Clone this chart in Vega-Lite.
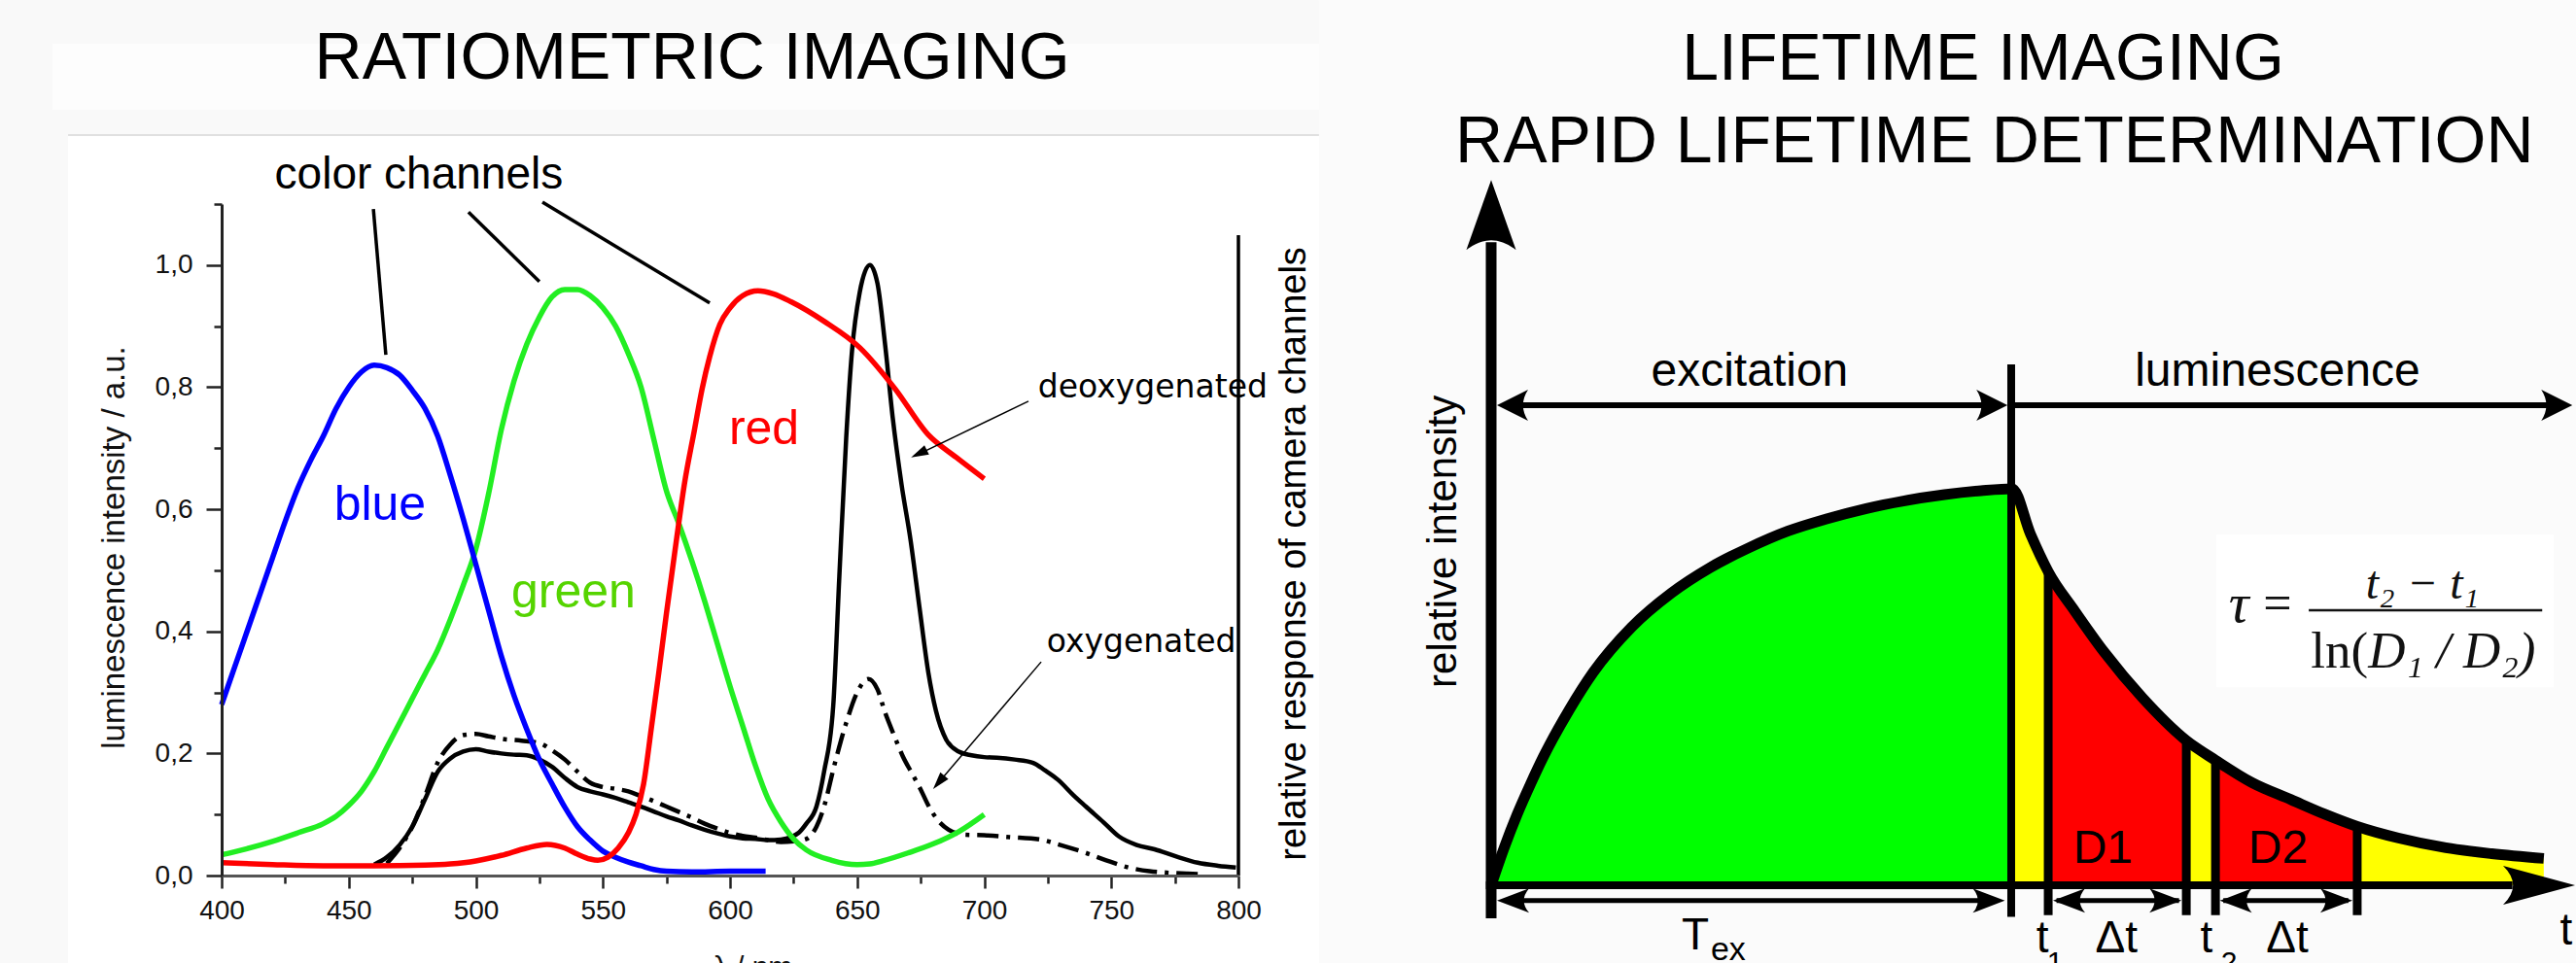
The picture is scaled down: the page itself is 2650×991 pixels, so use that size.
{
"$schema":"https://vega.github.io/schema/vega-lite/v6.json",
"background":"#fbfbfb",
"padding":0,
"autosize":{"type":"pad"},
"bounds":"flush",
"spacing":260,
"config":{"view":{"stroke":null},"font":"Liberation Sans"},
"datasets":{
"spectra":[
{"series":"blue","nm":400,"v":0.28},{"series":"blue","nm":405,"v":0.34},{"series":"blue","nm":410,"v":0.4},{"series":"blue","nm":415,"v":0.46},{"series":"blue","nm":420,"v":0.52},{"series":"blue","nm":425,"v":0.58},{"series":"blue","nm":430,"v":0.635},{"series":"blue","nm":435,"v":0.68},{"series":"blue","nm":440,"v":0.72},{"series":"blue","nm":445,"v":0.765},{"series":"blue","nm":450,"v":0.8},{"series":"blue","nm":455,"v":0.825},{"series":"blue","nm":460,"v":0.836},{"series":"blue","nm":465,"v":0.832},{"series":"blue","nm":470,"v":0.82},{"series":"blue","nm":475,"v":0.795},{"series":"blue","nm":480,"v":0.765},{"series":"blue","nm":485,"v":0.72},{"series":"blue","nm":490,"v":0.655},{"series":"blue","nm":495,"v":0.585},{"series":"blue","nm":500,"v":0.51},{"series":"blue","nm":505,"v":0.435},{"series":"blue","nm":510,"v":0.36},{"series":"blue","nm":515,"v":0.295},{"series":"blue","nm":520,"v":0.24},{"series":"blue","nm":525,"v":0.19},{"series":"blue","nm":530,"v":0.15},{"series":"blue","nm":535,"v":0.112},{"series":"blue","nm":540,"v":0.08},{"series":"blue","nm":545,"v":0.058},{"series":"blue","nm":550,"v":0.04},{"series":"blue","nm":555,"v":0.03},{"series":"blue","nm":560,"v":0.022},{"series":"blue","nm":565,"v":0.016},{"series":"blue","nm":570,"v":0.01},{"series":"blue","nm":575,"v":0.007},{"series":"blue","nm":585,"v":0.006},{"series":"blue","nm":600,"v":0.007},{"series":"blue","nm":614,"v":0.007},
{"series":"green","nm":400,"v":0.034},{"series":"green","nm":410,"v":0.044},{"series":"green","nm":420,"v":0.056},{"series":"green","nm":430,"v":0.07},{"series":"green","nm":440,"v":0.085},{"series":"green","nm":445,"v":0.097},{"series":"green","nm":450,"v":0.115},{"series":"green","nm":455,"v":0.138},{"series":"green","nm":460,"v":0.17},{"series":"green","nm":465,"v":0.21},{"series":"green","nm":470,"v":0.25},{"series":"green","nm":475,"v":0.29},{"series":"green","nm":480,"v":0.33},{"series":"green","nm":485,"v":0.37},{"series":"green","nm":490,"v":0.42},{"series":"green","nm":495,"v":0.475},{"series":"green","nm":500,"v":0.535},{"series":"green","nm":505,"v":0.625},{"series":"green","nm":510,"v":0.73},{"series":"green","nm":515,"v":0.81},{"series":"green","nm":520,"v":0.87},{"series":"green","nm":525,"v":0.915},{"series":"green","nm":530,"v":0.948},{"series":"green","nm":535,"v":0.96},{"series":"green","nm":540,"v":0.96},{"series":"green","nm":545,"v":0.95},{"series":"green","nm":550,"v":0.93},{"series":"green","nm":555,"v":0.9},{"series":"green","nm":560,"v":0.855},{"series":"green","nm":565,"v":0.8},{"series":"green","nm":570,"v":0.715},{"series":"green","nm":575,"v":0.63},{"series":"green","nm":580,"v":0.575},{"series":"green","nm":585,"v":0.515},{"series":"green","nm":590,"v":0.45},{"series":"green","nm":595,"v":0.38},{"series":"green","nm":600,"v":0.31},{"series":"green","nm":605,"v":0.245},{"series":"green","nm":610,"v":0.18},{"series":"green","nm":615,"v":0.125},{"series":"green","nm":620,"v":0.088},{"series":"green","nm":625,"v":0.06},{"series":"green","nm":630,"v":0.042},{"series":"green","nm":640,"v":0.025},{"series":"green","nm":650,"v":0.018},{"series":"green","nm":655,"v":0.019},{"series":"green","nm":660,"v":0.024},{"series":"green","nm":670,"v":0.037},{"series":"green","nm":680,"v":0.052},{"series":"green","nm":690,"v":0.072},{"series":"green","nm":700,"v":0.1},
{"series":"red","nm":400,"v":0.021},{"series":"red","nm":420,"v":0.018},{"series":"red","nm":440,"v":0.016},{"series":"red","nm":460,"v":0.016},{"series":"red","nm":480,"v":0.017},{"series":"red","nm":490,"v":0.019},{"series":"red","nm":500,"v":0.024},{"series":"red","nm":510,"v":0.033},{"series":"red","nm":520,"v":0.045},{"series":"red","nm":528,"v":0.051},{"series":"red","nm":535,"v":0.045},{"series":"red","nm":540,"v":0.035},{"series":"red","nm":545,"v":0.027},{"series":"red","nm":548,"v":0.025},{"series":"red","nm":552,"v":0.03},{"series":"red","nm":556,"v":0.045},{"series":"red","nm":560,"v":0.07},{"series":"red","nm":563,"v":0.1},{"series":"red","nm":566,"v":0.15},{"series":"red","nm":569,"v":0.24},{"series":"red","nm":572,"v":0.333},{"series":"red","nm":575,"v":0.43},{"series":"red","nm":579,"v":0.552},{"series":"red","nm":582,"v":0.64},{"series":"red","nm":586,"v":0.73},{"series":"red","nm":589,"v":0.797},{"series":"red","nm":592,"v":0.85},{"series":"red","nm":596,"v":0.903},{"series":"red","nm":600,"v":0.93},{"series":"red","nm":605,"v":0.95},{"series":"red","nm":611,"v":0.958},{"series":"red","nm":617,"v":0.953},{"series":"red","nm":624,"v":0.94},{"series":"red","nm":637,"v":0.908},{"series":"red","nm":651,"v":0.865},{"series":"red","nm":665,"v":0.797},{"series":"red","nm":678,"v":0.722},{"series":"red","nm":689,"v":0.685},{"series":"red","nm":700,"v":0.65},
{"series":"deoxygenated","nm":460,"v":0.018},{"series":"deoxygenated","nm":465,"v":0.03},{"series":"deoxygenated","nm":470,"v":0.05},{"series":"deoxygenated","nm":475,"v":0.08},{"series":"deoxygenated","nm":480,"v":0.125},{"series":"deoxygenated","nm":485,"v":0.17},{"series":"deoxygenated","nm":490,"v":0.192},{"series":"deoxygenated","nm":495,"v":0.203},{"series":"deoxygenated","nm":500,"v":0.207},{"series":"deoxygenated","nm":505,"v":0.203},{"series":"deoxygenated","nm":510,"v":0.2},{"series":"deoxygenated","nm":515,"v":0.198},{"series":"deoxygenated","nm":520,"v":0.197},{"series":"deoxygenated","nm":525,"v":0.19},{"series":"deoxygenated","nm":530,"v":0.178},{"series":"deoxygenated","nm":535,"v":0.16},{"series":"deoxygenated","nm":540,"v":0.145},{"series":"deoxygenated","nm":545,"v":0.138},{"series":"deoxygenated","nm":550,"v":0.133},{"series":"deoxygenated","nm":555,"v":0.127},{"series":"deoxygenated","nm":560,"v":0.12},{"series":"deoxygenated","nm":565,"v":0.113},{"series":"deoxygenated","nm":570,"v":0.105},{"series":"deoxygenated","nm":575,"v":0.097},{"series":"deoxygenated","nm":580,"v":0.09},{"series":"deoxygenated","nm":585,"v":0.082},{"series":"deoxygenated","nm":590,"v":0.075},{"series":"deoxygenated","nm":595,"v":0.069},{"series":"deoxygenated","nm":600,"v":0.064},{"series":"deoxygenated","nm":605,"v":0.061},{"series":"deoxygenated","nm":610,"v":0.06},{"series":"deoxygenated","nm":615,"v":0.058},{"series":"deoxygenated","nm":620,"v":0.059},{"series":"deoxygenated","nm":624,"v":0.063},{"series":"deoxygenated","nm":627,"v":0.07},{"series":"deoxygenated","nm":630,"v":0.085},{"series":"deoxygenated","nm":634,"v":0.113},{"series":"deoxygenated","nm":637,"v":0.17},{"series":"deoxygenated","nm":640.6,"v":0.278},{"series":"deoxygenated","nm":643,"v":0.49},{"series":"deoxygenated","nm":645.7,"v":0.717},{"series":"deoxygenated","nm":648,"v":0.86},{"series":"deoxygenated","nm":651,"v":0.955},{"series":"deoxygenated","nm":655,"v":1.0},{"series":"deoxygenated","nm":658,"v":0.97},{"series":"deoxygenated","nm":661,"v":0.87},{"series":"deoxygenated","nm":664,"v":0.75},{"series":"deoxygenated","nm":667.5,"v":0.64},{"series":"deoxygenated","nm":671,"v":0.55},{"series":"deoxygenated","nm":674.5,"v":0.44},{"series":"deoxygenated","nm":678,"v":0.333},{"series":"deoxygenated","nm":681,"v":0.27},{"series":"deoxygenated","nm":685,"v":0.223},{"series":"deoxygenated","nm":690,"v":0.203},{"series":"deoxygenated","nm":695,"v":0.197},{"series":"deoxygenated","nm":700,"v":0.194},{"series":"deoxygenated","nm":705,"v":0.193},{"series":"deoxygenated","nm":712,"v":0.19},{"series":"deoxygenated","nm":719,"v":0.185},{"series":"deoxygenated","nm":724,"v":0.172},{"series":"deoxygenated","nm":729,"v":0.157},{"series":"deoxygenated","nm":735,"v":0.132},{"series":"deoxygenated","nm":740,"v":0.113},{"series":"deoxygenated","nm":747,"v":0.087},{"series":"deoxygenated","nm":753,"v":0.064},{"series":"deoxygenated","nm":760,"v":0.05},{"series":"deoxygenated","nm":767,"v":0.043},{"series":"deoxygenated","nm":775,"v":0.032},{"series":"deoxygenated","nm":784,"v":0.021},{"series":"deoxygenated","nm":792,"v":0.016},{"series":"deoxygenated","nm":799,"v":0.013},
{"series":"oxygenated","nm":465,"v":0.02},{"series":"oxygenated","nm":470,"v":0.045},{"series":"oxygenated","nm":475,"v":0.08},{"series":"oxygenated","nm":480,"v":0.13},{"series":"oxygenated","nm":485,"v":0.185},{"series":"oxygenated","nm":490,"v":0.215},{"series":"oxygenated","nm":495,"v":0.23},{"series":"oxygenated","nm":500,"v":0.232},{"series":"oxygenated","nm":505,"v":0.228},{"series":"oxygenated","nm":510,"v":0.224},{"series":"oxygenated","nm":518,"v":0.221},{"series":"oxygenated","nm":525,"v":0.217},{"series":"oxygenated","nm":530,"v":0.205},{"series":"oxygenated","nm":535,"v":0.19},{"series":"oxygenated","nm":540,"v":0.17},{"series":"oxygenated","nm":545,"v":0.152},{"series":"oxygenated","nm":550,"v":0.145},{"series":"oxygenated","nm":555,"v":0.142},{"series":"oxygenated","nm":560,"v":0.138},{"series":"oxygenated","nm":565,"v":0.13},{"series":"oxygenated","nm":570,"v":0.122},{"series":"oxygenated","nm":575,"v":0.113},{"series":"oxygenated","nm":580,"v":0.104},{"series":"oxygenated","nm":585,"v":0.095},{"series":"oxygenated","nm":590,"v":0.085},{"series":"oxygenated","nm":595,"v":0.077},{"series":"oxygenated","nm":600,"v":0.07},{"series":"oxygenated","nm":605,"v":0.065},{"series":"oxygenated","nm":610,"v":0.062},{"series":"oxygenated","nm":615,"v":0.058},{"series":"oxygenated","nm":620,"v":0.055},{"series":"oxygenated","nm":625,"v":0.056},{"series":"oxygenated","nm":630,"v":0.06},{"series":"oxygenated","nm":634,"v":0.08},{"series":"oxygenated","nm":637,"v":0.113},{"series":"oxygenated","nm":641,"v":0.18},{"series":"oxygenated","nm":645.7,"v":0.25},{"series":"oxygenated","nm":650,"v":0.3},{"series":"oxygenated","nm":654.4,"v":0.322},{"series":"oxygenated","nm":658,"v":0.305},{"series":"oxygenated","nm":661,"v":0.267},{"series":"oxygenated","nm":664.5,"v":0.23},{"series":"oxygenated","nm":668,"v":0.195},{"series":"oxygenated","nm":671.5,"v":0.168},{"series":"oxygenated","nm":675,"v":0.141},{"series":"oxygenated","nm":678,"v":0.115},{"series":"oxygenated","nm":681.5,"v":0.092},{"series":"oxygenated","nm":686,"v":0.075},{"series":"oxygenated","nm":692,"v":0.067},{"series":"oxygenated","nm":700,"v":0.066},{"series":"oxygenated","nm":710,"v":0.063},{"series":"oxygenated","nm":722,"v":0.059},{"series":"oxygenated","nm":730,"v":0.05},{"series":"oxygenated","nm":740,"v":0.037},{"series":"oxygenated","nm":748,"v":0.025},{"series":"oxygenated","nm":757,"v":0.013},{"series":"oxygenated","nm":765,"v":0.007},{"series":"oxygenated","nm":771,"v":0.005},{"series":"oxygenated","nm":780,"v":0.003},{"series":"oxygenated","nm":786,"v":0.002}
],
"lreg":[
{"region":"bg","nm":312.85,"nm2":831.7,"v":-0.1433,"v2":1.434},
{"region":"band","nm":333.5,"nm2":831.7,"v":1.2544,"v2":1.3627},
{"region":"plot","nm":339.6,"nm2":831.7,"v":-0.1433,"v2":1.213}
],
"lseg":[
{"kind":"sep","nm":339.6,"v":1.213,"nm2":831.7,"v2":1.213},
{"kind":"frame","nm":800,"v":0,"nm2":800,"v2":1.049},
{"kind":"leader","nm":459.7,"v":1.092,"nm2":464.6,"v2":0.853},
{"kind":"leader","nm":497.1,"v":1.087,"nm2":525,"v2":0.973},
{"kind":"leader","nm":526.2,"v":1.103,"nm2":592,"v2":0.938},
{"kind":"pointer","nm":717.4,"v":0.777,"nm2":674,"v2":0.69},
{"kind":"pointer","nm":722.4,"v":0.35,"nm2":682,"v2":0.152}
],
"lhead":[
{"kind":"deoxy","nm":674.3,"v":0.691},
{"kind":"oxy","nm":682.1,"v":0.1527}
],
"ltext":[
{"role":"title","label":"RATIOMETRIC IMAGING","nm":585.1,"v":1.305},
{"role":"note","label":"color channels","nm":477.6,"v":1.1255},
{"role":"channel","label":"blue","nm":462.3,"v":0.583},
{"role":"channel","label":"green","nm":538.4,"v":0.439},
{"role":"channel","label":"red","nm":613.4,"v":0.707},
{"role":"state","label":"deoxygenated","nm":766.3,"v":0.783},
{"role":"state","label":"oxygenated","nm":761.8,"v":0.366},
{"role":"side","label":"relative response of camera channels","nm":822.2,"v":0.527}
],
"curve":[
{"part":"rise","t":0,"I":0},{"part":"rise","t":0.25,"I":0.95},{"part":"rise","t":0.5,"I":1.8},{"part":"rise","t":0.75,"I":2.55},{"part":"rise","t":1.0,"I":3.25},{"part":"rise","t":1.5,"I":4.45},{"part":"rise","t":1.96,"I":5.4},{"part":"rise","t":2.7,"I":6.55},{"part":"rise","t":3.45,"I":7.4},{"part":"rise","t":4.2,"I":8.05},{"part":"rise","t":4.94,"I":8.55},{"part":"rise","t":5.7,"I":8.98},{"part":"rise","t":6.42,"I":9.28},{"part":"rise","t":7.2,"I":9.55},{"part":"rise","t":7.91,"I":9.74},{"part":"rise","t":8.7,"I":9.9},{"part":"rise","t":9.4,"I":10.0},{"part":"rise","t":10,"I":10.05},
{"part":"decay","t":10,"I":10.05},{"part":"decay","t":10.35,"I":8.9},{"part":"decay","t":10.69,"I":7.95},{"part":"decay","t":11.2,"I":6.95},{"part":"decay","t":11.77,"I":5.9},{"part":"decay","t":12.5,"I":4.75},{"part":"decay","t":13.34,"I":3.67},{"part":"decay","t":13.9,"I":3.17},{"part":"decay","t":14.6,"I":2.6},{"part":"decay","t":15.35,"I":2.17},{"part":"decay","t":16.0,"I":1.8},{"part":"decay","t":16.62,"I":1.49},{"part":"decay","t":17.4,"I":1.2},{"part":"decay","t":18.32,"I":0.95},{"part":"decay","t":19.2,"I":0.8},{"part":"decay","t":20.2,"I":0.68}
],
"rreg":[
{"region":"formula","t":13.92,"t2":20.39,"I":5.02,"I2":8.89}
],
"rseg":[
{"kind":"axisV","t":0,"I":-0.84,"t2":0,"I2":16.3},
{"kind":"axisH","t":-0.1,"I":0,"t2":19.6,"I2":0},
{"kind":"tex","t":9.98,"I":-0.8,"t2":9.98,"I2":13.2},
{"kind":"gate","t":10.69,"I":-0.76,"t2":10.69,"I2":7.95},
{"kind":"gate","t":13.34,"I":-0.76,"t2":13.34,"I2":3.67},
{"kind":"gate","t":13.9,"I":-0.76,"t2":13.9,"I2":3.17},
{"kind":"gate","t":16.62,"I":-0.76,"t2":16.62,"I2":1.49},
{"kind":"upper","t":0.3,"I":12.17,"t2":9.7,"I2":12.17},
{"kind":"upper","t":10,"I":12.17,"t2":20.3,"I2":12.17},
{"kind":"lower","t":0.3,"I":-0.39,"t2":9.7,"I2":-0.39},
{"kind":"lower","t":10.85,"I":-0.39,"t2":13.2,"I2":-0.39},
{"kind":"lower","t":14.05,"I":-0.39,"t2":16.45,"I2":-0.39},
{"kind":"bar","t":15.69,"I":6.97,"t2":20.17,"I2":6.97}
],
"rhead":[
{"kind":"up","t":0,"I":16.99},
{"kind":"tright","t":20.11,"I":0},
{"kind":"mleft","t":0.41,"I":12.17},
{"kind":"mright","t":9.61,"I":12.17},
{"kind":"mright","t":20.45,"I":12.17},
{"kind":"bleft","t":0.42,"I":-0.39},
{"kind":"bleft","t":11.09,"I":-0.39},
{"kind":"bleft","t":14.29,"I":-0.39},
{"kind":"bright","t":9.55,"I":-0.39},
{"kind":"bright","t":12.94,"I":-0.39},
{"kind":"bright","t":16.22,"I":-0.39}
],
"rtext":[
{"role":"title","label":"LIFETIME IMAGING","t":9.44,"I":20.42},
{"role":"title","label":"RAPID LIFETIME DETERMINATION","t":9.66,"I":18.33},
{"role":"phase","label":"excitation","t":4.96,"I":12.66},
{"role":"phase","label":"luminescence","t":15.09,"I":12.66},
{"role":"phase","label":"D1","t":11.74,"I":0.57},
{"role":"phase","label":"D2","t":15.1,"I":0.57},
{"role":"ytitle","label":"relative intensity","t":-0.914,"I":8.71},
{"role":"time","label":"T","t":3.92,"I":-1.63},
{"role":"time","label":"t","t":10.58,"I":-1.7},
{"role":"time","label":"Δt","t":12.0,"I":-1.7},
{"role":"time","label":"t","t":13.73,"I":-1.7},
{"role":"time","label":"Δt","t":15.28,"I":-1.7},
{"role":"time","label":"t","t":20.63,"I":-1.5},
{"role":"sub","label":"ex","t":4.55,"I":-1.9},
{"role":"sub2","label":"1","t":10.82,"I":-2.19},
{"role":"sub2","label":"2","t":14.16,"I":-2.19},
{"role":"mathit","label":"τ","t":14.35,"I":6.67},
{"role":"math","label":"=","t":15.09,"I":6.72},
{"role":"num","label":"t₂ − t₁","t":17.87,"I":7.27},
{"role":"lnpart","label":"ln(","t":16.83,"I":5.52},
{"role":"dpart","label":"D₁ / D₂)","t":16.83,"I":5.52}
]
},
"hconcat":[
{
"width":1046,"height":691,
"encoding":{
"x":{"field":"nm","type":"quantitative","scale":{"domain":[400,800],"nice":false,"zero":false},
"axis":{"zindex":2,"values":[400,425,450,475,500,525,550,575,600,625,650,675,700,725,750,775,800],
"labelExpr":"datum.value % 50 === 0 ? datum.label : ''",
"tickSize":{"condition":{"test":"datum.value % 50 === 0","value":13},"value":8},
"title":"λ / nm","titleX":546,"titleY":103,"titleAlign":"center","titleBaseline":"alphabetic","titleAnchor":"start","titleFontSize":30,"titleFont":"Liberation Sans","titleFontWeight":"normal","titleColor":"#111111",
"grid":false,"labelOverlap":false,"labelFlush":false,"domainColor":"#555555","domainWidth":3,"tickColor":"#222222","tickWidth":2.5,"labelPadding":9,"labelFontSize":28,"labelFont":"Liberation Sans","labelColor":"#111111"}},
"y":{"field":"v","type":"quantitative","scale":{"domain":[0,1.1],"nice":false,"zero":false},
"axis":{"zindex":2,"values":[0,0.1,0.2,0.3,0.4,0.5,0.6,0.7,0.8,0.9,1,1.1],
"labelExpr":"round(datum.value*10) % 2 === 0 && datum.value < 1.05 ? replace(format(datum.value, '.1f'), '.', ',') : ''",
"tickSize":{"condition":{"test":"round(datum.value*10) % 2 === 0 && datum.value < 1.05","value":16},"value":8},
"title":"luminescence intensity / a.u.","titleX":-110.5,"titleY":353,"titleAngle":270,"titleAlign":"center","titleBaseline":"middle","titleAnchor":"start","titleFontSize":33,"titleFont":"Liberation Sans","titleFontWeight":"normal","titleColor":"#111111",
"grid":false,"labelOverlap":false,"labelFlush":false,"domainColor":"#222222","domainWidth":3,"tickColor":"#222222","tickWidth":2.5,"labelPadding":14,"labelFontSize":28,"labelFont":"Liberation Sans","labelColor":"#111111"}}
},
"layer":[
{"data":{"name":"lreg"},"transform":[{"filter":"datum.region === 'bg'"}],"mark":{"type":"rect","color":"#f9f9f9"},"encoding":{"x2":{"field":"nm2"},"y2":{"field":"v2"}}},
{"data":{"name":"lreg"},"transform":[{"filter":"datum.region === 'band'"}],"mark":{"type":"rect","color":"#fdfdfd"},"encoding":{"x2":{"field":"nm2"},"y2":{"field":"v2"}}},
{"data":{"name":"lreg"},"transform":[{"filter":"datum.region === 'plot'"}],"mark":{"type":"rect","color":"#ffffff"},"encoding":{"x2":{"field":"nm2"},"y2":{"field":"v2"}}},
{"data":{"name":"lseg"},"transform":[{"filter":"datum.kind === 'sep'"}],"mark":{"type":"rule","color":"#e0e0e0","strokeWidth":2},"encoding":{"x2":{"field":"nm2"},"y2":{"field":"v2"}}},
{"data":{"name":"lseg"},"transform":[{"filter":"datum.kind === 'frame'"}],"mark":{"type":"rule","color":"#000000","strokeWidth":3.5},"encoding":{"x2":{"field":"nm2"},"y2":{"field":"v2"}}},
{"data":{"name":"spectra"},"transform":[{"filter":"datum.series === 'deoxygenated'"}],"mark":{"type":"line","color":"#000000","strokeWidth":4.5,"interpolate":"monotone"}},
{"data":{"name":"spectra"},"transform":[{"filter":"datum.series === 'oxygenated'"}],"mark":{"type":"line","color":"#000000","strokeWidth":4.5,"strokeDash":[22,8,4,8],"interpolate":"monotone"}},
{"data":{"name":"spectra"},"transform":[{"filter":"datum.series === 'green'"}],"mark":{"type":"line","color":"#22ee22","strokeWidth":5.5,"interpolate":"monotone"}},
{"data":{"name":"spectra"},"transform":[{"filter":"datum.series === 'blue'"}],"mark":{"type":"line","color":"#0000ff","strokeWidth":5.5,"interpolate":"monotone"}},
{"data":{"name":"spectra"},"transform":[{"filter":"datum.series === 'red'"}],"mark":{"type":"line","color":"#ff0000","strokeWidth":5.5,"interpolate":"monotone"}},
{"data":{"name":"lseg"},"transform":[{"filter":"datum.kind === 'leader'"}],"mark":{"type":"rule","color":"#000000","strokeWidth":3.5},"encoding":{"x2":{"field":"nm2"},"y2":{"field":"v2"}}},
{"data":{"name":"lseg"},"transform":[{"filter":"datum.kind === 'pointer'"}],"mark":{"type":"rule","color":"#000000","strokeWidth":1.5},"encoding":{"x2":{"field":"nm2"},"y2":{"field":"v2"}}},
{"data":{"name":"lhead"},"transform":[{"filter":"datum.kind === 'deoxy'"}],"mark":{"type":"point","shape":"M0,-1L0.6,1L-0.6,1Z","size":324,"angle":244,"filled":true,"color":"#000000","opacity":1}},
{"data":{"name":"lhead"},"transform":[{"filter":"datum.kind === 'oxy'"}],"mark":{"type":"point","shape":"M0,-1L0.6,1L-0.6,1Z","size":324,"angle":220,"filled":true,"color":"#000000","opacity":1}},
{"data":{"name":"ltext"},"transform":[{"filter":"datum.role === 'title'"}],"mark":{"type":"text","font":"Liberation Sans","fontSize":68,"baseline":"alphabetic","align":"center","color":"#000000"},"encoding":{"text":{"field":"label"}}},
{"data":{"name":"ltext"},"transform":[{"filter":"datum.role === 'note'"}],"mark":{"type":"text","font":"Liberation Sans","fontSize":46,"baseline":"alphabetic","align":"center","color":"#000000"},"encoding":{"text":{"field":"label"}}},
{"data":{"name":"ltext"},"transform":[{"filter":"datum.role === 'channel'"}],"mark":{"type":"text","font":"Liberation Sans","fontSize":50,"baseline":"alphabetic","align":"center"},"encoding":{"text":{"field":"label"},"color":{"field":"label","type":"nominal","scale":{"domain":["blue","green","red"],"range":["#0000ff","#55d400","#ff0000"]},"legend":null}}},
{"data":{"name":"ltext"},"transform":[{"filter":"datum.role === 'state'"}],"mark":{"type":"text","font":"DejaVu Sans","fontSize":33,"baseline":"alphabetic","align":"center","color":"#000000"},"encoding":{"text":{"field":"label"}}},
{"data":{"name":"ltext"},"transform":[{"filter":"datum.role === 'side'"}],"mark":{"type":"text","font":"Liberation Sans","fontSize":38,"baseline":"middle","align":"center","angle":270,"color":"#000000"},"encoding":{"text":{"field":"label"}}}
]
},
{
"width":1100,"height":701,
"encoding":{
"x":{"field":"t","type":"quantitative","scale":{"domain":[0,20.52],"nice":false,"zero":false},"axis":null},
"y":{"field":"I","type":"quantitative","scale":{"domain":[0,17.266],"nice":false,"zero":false},"axis":null}
},
"layer":[
{"data":{"name":"rreg"},"mark":{"type":"rect","color":"#ffffff"},"encoding":{"x2":{"field":"t2"},"y2":{"field":"I2"}}},
{"data":{"name":"curve"},"transform":[{"filter":"datum.part === 'rise'"}],"mark":{"type":"area","color":"#00ff00","opacity":1,"interpolate":"monotone"}},
{"data":{"name":"curve"},"transform":[{"filter":"datum.part === 'decay'"}],"mark":{"type":"area","color":"#ffff00","opacity":1,"interpolate":"monotone"}},
{"data":{"name":"curve"},"transform":[{"filter":"datum.part === 'decay'"},{"filter":{"field":"t","range":[10.69,13.34]}}],"mark":{"type":"area","color":"#ff0000","opacity":1,"interpolate":"monotone"}},
{"data":{"name":"curve"},"transform":[{"filter":"datum.part === 'decay'"},{"filter":{"field":"t","range":[13.9,16.62]}}],"mark":{"type":"area","color":"#ff0000","opacity":1,"interpolate":"monotone"}},
{"data":{"name":"curve"},"mark":{"type":"line","color":"#000000","strokeWidth":11,"interpolate":"monotone","strokeJoin":"round"}},
{"data":{"name":"rseg"},"transform":[{"filter":"datum.kind === 'gate'"}],"mark":{"type":"rule","color":"#000000","strokeWidth":9},"encoding":{"x2":{"field":"t2"},"y2":{"field":"I2"}}},
{"data":{"name":"rseg"},"transform":[{"filter":"datum.kind === 'tex'"}],"mark":{"type":"rule","color":"#000000","strokeWidth":8},"encoding":{"x2":{"field":"t2"},"y2":{"field":"I2"}}},
{"data":{"name":"rseg"},"transform":[{"filter":"datum.kind === 'axisV'"}],"mark":{"type":"rule","color":"#000000","strokeWidth":11},"encoding":{"x2":{"field":"t2"},"y2":{"field":"I2"}}},
{"data":{"name":"rseg"},"transform":[{"filter":"datum.kind === 'axisH'"}],"mark":{"type":"rule","color":"#000000","strokeWidth":8},"encoding":{"x2":{"field":"t2"},"y2":{"field":"I2"}}},
{"data":{"name":"rseg"},"transform":[{"filter":"datum.kind === 'upper'"}],"mark":{"type":"rule","color":"#000000","strokeWidth":6},"encoding":{"x2":{"field":"t2"},"y2":{"field":"I2"}}},
{"data":{"name":"rseg"},"transform":[{"filter":"datum.kind === 'lower'"}],"mark":{"type":"rule","color":"#000000","strokeWidth":5},"encoding":{"x2":{"field":"t2"},"y2":{"field":"I2"}}},
{"data":{"name":"rseg"},"transform":[{"filter":"datum.kind === 'bar'"}],"mark":{"type":"rule","color":"#111111","strokeWidth":2.5},"encoding":{"x2":{"field":"t2"},"y2":{"field":"I2"}}},
{"data":{"name":"rhead"},"transform":[{"filter":"datum.kind === 'up'"}],"mark":{"type":"point","shape":"M0,-1L0.71,1Q0,0.45,-0.71,1Z","size":5184,"angle":0,"filled":true,"color":"#000000","opacity":1}},
{"data":{"name":"rhead"},"transform":[{"filter":"datum.kind === 'tright'"}],"mark":{"type":"point","shape":"M0,-1L0.54,1Q0,0.45,-0.54,1Z","size":5476,"angle":90,"filled":true,"color":"#000000","opacity":1}},
{"data":{"name":"rhead"},"transform":[{"filter":"datum.kind === 'mleft'"}],"mark":{"type":"point","shape":"M0,-1L1,1Q0,0.35,-1,1Z","size":1024,"angle":270,"filled":true,"color":"#000000","opacity":1}},
{"data":{"name":"rhead"},"transform":[{"filter":"datum.kind === 'mright'"}],"mark":{"type":"point","shape":"M0,-1L1,1Q0,0.35,-1,1Z","size":1024,"angle":90,"filled":true,"color":"#000000","opacity":1}},
{"data":{"name":"rhead"},"transform":[{"filter":"datum.kind === 'bleft'"}],"mark":{"type":"point","shape":"M0,-1L0.76,1Q0,0.35,-0.76,1Z","size":1089,"angle":270,"filled":true,"color":"#000000","opacity":1}},
{"data":{"name":"rhead"},"transform":[{"filter":"datum.kind === 'bright'"}],"mark":{"type":"point","shape":"M0,-1L0.76,1Q0,0.35,-0.76,1Z","size":1089,"angle":90,"filled":true,"color":"#000000","opacity":1}},
{"data":{"name":"rtext"},"transform":[{"filter":"datum.role === 'title'"}],"mark":{"type":"text","font":"Liberation Sans","fontSize":68,"baseline":"alphabetic","align":"center","color":"#000000"},"encoding":{"text":{"field":"label"}}},
{"data":{"name":"rtext"},"transform":[{"filter":"datum.role === 'phase'"}],"mark":{"type":"text","font":"Liberation Sans","fontSize":48,"baseline":"alphabetic","align":"center","color":"#000000"},"encoding":{"text":{"field":"label"}}},
{"data":{"name":"rtext"},"transform":[{"filter":"datum.role === 'ytitle'"}],"mark":{"type":"text","font":"Liberation Sans","fontSize":42,"baseline":"middle","align":"center","angle":270,"color":"#000000"},"encoding":{"text":{"field":"label"}}},
{"data":{"name":"rtext"},"transform":[{"filter":"datum.role === 'time'"}],"mark":{"type":"text","font":"Liberation Sans","fontSize":46,"baseline":"alphabetic","align":"center","color":"#000000"},"encoding":{"text":{"field":"label"}}},
{"data":{"name":"rtext"},"transform":[{"filter":"datum.role === 'sub'"}],"mark":{"type":"text","font":"Liberation Sans","fontSize":34,"baseline":"alphabetic","align":"center","color":"#000000"},"encoding":{"text":{"field":"label"}}},
{"data":{"name":"rtext"},"transform":[{"filter":"datum.role === 'sub2'"}],"mark":{"type":"text","font":"Liberation Sans","fontSize":30,"baseline":"alphabetic","align":"center","color":"#000000"},"encoding":{"text":{"field":"label"}}},
{"data":{"name":"rtext"},"transform":[{"filter":"datum.role === 'mathit'"}],"mark":{"type":"text","font":"Liberation Serif","fontStyle":"italic","fontSize":58,"baseline":"alphabetic","align":"center","color":"#111111"},"encoding":{"text":{"field":"label"}}},
{"data":{"name":"rtext"},"transform":[{"filter":"datum.role === 'math'"}],"mark":{"type":"text","font":"Liberation Serif","fontSize":52,"baseline":"alphabetic","align":"center","color":"#111111"},"encoding":{"text":{"field":"label"}}},
{"data":{"name":"rtext"},"transform":[{"filter":"datum.role === 'num'"}],"mark":{"type":"text","font":"Liberation Serif","fontStyle":"italic","fontSize":48,"baseline":"alphabetic","align":"center","color":"#111111"},"encoding":{"text":{"field":"label"}}},
{"data":{"name":"rtext"},"transform":[{"filter":"datum.role === 'lnpart'"}],"mark":{"type":"text","font":"Liberation Serif","fontSize":53,"baseline":"alphabetic","align":"right","color":"#111111"},"encoding":{"text":{"field":"label"}}},
{"data":{"name":"rtext"},"transform":[{"filter":"datum.role === 'dpart'"}],"mark":{"type":"text","font":"Liberation Serif","fontStyle":"italic","fontSize":53,"baseline":"alphabetic","align":"left","color":"#111111"},"encoding":{"text":{"field":"label"}}}
]
}
]
}
